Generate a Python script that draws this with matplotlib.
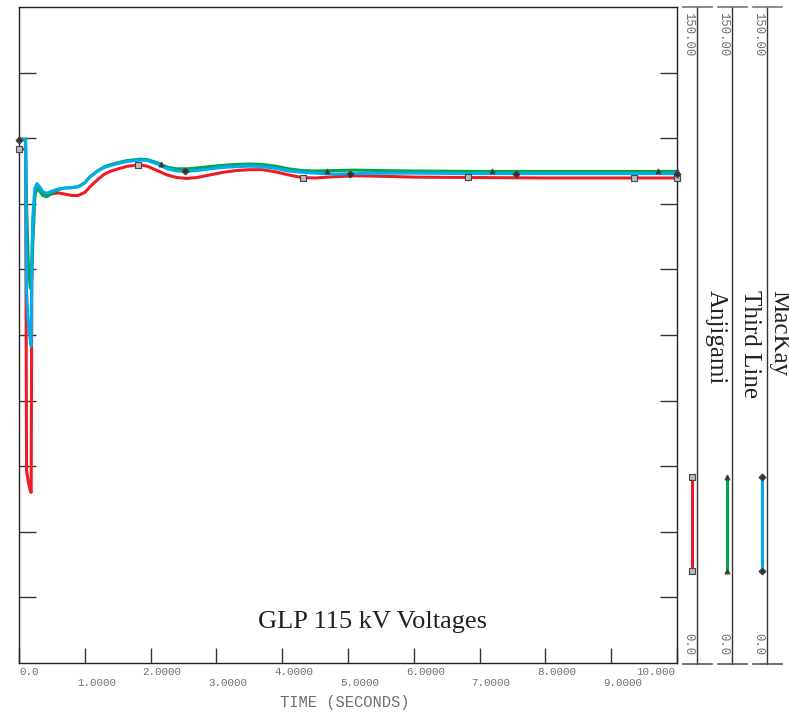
import numpy as np
import matplotlib
matplotlib.use('Agg')
import matplotlib.pyplot as plt
from matplotlib.lines import Line2D

# Datos (tiempo en s, tension en kV)
tiempo = [0.0, 0.10, 0.115, 0.14, 0.17, 0.185, 0.195, 0.21, 0.24, 0.27, 0.31, 0.36,
          0.42, 0.5, 0.6, 0.7, 0.8, 0.9, 1.0, 1.08, 1.2, 1.3, 1.4, 1.53, 1.65, 1.84,
          1.95, 2.1, 2.25, 2.4, 2.55, 2.7, 2.9, 3.1, 3.3, 3.5, 3.7, 3.9, 4.1, 4.3,
          4.5, 4.8, 5.1, 5.5, 6.0, 7.0, 8.0, 9.0, 10.0]

anjigami = [117.5, 117.5, 44.0, 41.5, 39.5, 39.0, 90.0, 100.0, 107.0, 108.5, 108.3, 107.3,
            107.0, 107.3, 107.5, 107.2, 106.9, 106.9, 107.6, 108.9, 110.6, 111.8, 112.5, 113.1, 113.6, 113.9,
            113.6, 112.6, 111.6, 111.0, 110.8, 111.0, 111.6, 112.2, 112.6, 112.8, 112.8, 112.3, 111.6, 111.0,
            110.9, 111.2, 111.4, 111.3, 111.1, 111.0, 110.9, 110.9, 110.9]

third_line = [119.8, 119.8, 105.0, 92.0, 86.0, 85.5, 89.0, 96.0, 106.5, 108.8, 108.0, 106.9,
              106.6, 107.4, 108.3, 108.6, 108.7, 108.9, 109.8, 111.2, 112.6, 113.5, 114.0, 114.5, 114.9, 115.2,
              115.1, 114.4, 113.4, 113.0, 113.0, 113.2, 113.5, 113.8, 114.0, 114.1, 114.0, 113.6, 113.0, 112.6,
              112.5, 112.6, 112.7, 112.6, 112.5, 112.4, 112.4, 112.4, 112.4]

mackay = [119.6, 119.6, 85.0, 78.0, 74.0, 72.5, 92.0, 102.0, 108.5, 109.6, 109.0, 107.8,
          107.4, 107.9, 108.4, 108.6, 108.7, 108.9, 109.8, 111.2, 112.5, 113.3, 113.8, 114.3, 114.7, 115.0,
          114.9, 114.1, 113.0, 112.5, 112.4, 112.6, 113.0, 113.3, 113.5, 113.6, 113.5, 113.1, 112.5, 112.2,
          112.0, 111.8, 111.9, 112.0, 112.0, 111.9, 111.9, 111.9, 111.9]

nombres = ['Anjigami', 'Third Line', 'MacKay']
colores = ['#ed1c24', '#00a651', '#00aeef']
marcadores = ['s', '^', 'D']
t_marcas = [[0.0, 1.81, 4.32, 6.83, 9.35, 10.0],
            [0.0, 2.16, 4.68, 7.19, 9.71, 10.0],
            [0.0, 2.52, 5.03, 7.55, 10.0]]
x_ticks = [0, 1, 2, 3, 4, 5, 6, 7, 8, 9, 10]
x_labels = ['0.0', '1.0000', '2.0000', '3.0000', '4.0000', '5.0000',
            '6.0000', '7.0000', '8.0000', '9.0000', '10.000']

W, H = 789, 713
fig = plt.figure(figsize=(W / 100, H / 100), dpi=100)


def fx(x):
    return x / W


def fy(y):
    return 1 - y / H


mono = 'Liberation Mono'
serif = 'Liberation Serif'
gris = '#707070'

ax = fig.add_axes([fx(19), fy(663), fx(677) - fx(19), fy(7) - fy(663)])
ax.set_xlim(0, 10)
ax.set_ylim(0, 150)
for s in ax.spines.values():
    s.set_color('#222222')
    s.set_linewidth(1.0)

series = [anjigami, third_line, mackay]
for datos, c, m, tm in zip(series, colores, marcadores, t_marcas):
    ax.plot(tiempo, datos, color=c, lw=2.2, solid_joinstyle='round', zorder=2)
    ym = np.interp(tm, tiempo, datos)
    ax.plot(tm, ym, ls='none', marker=m, ms=5 if m == 's' else 3.5,
            mfc='#bbbbbb' if m == 's' else '#333333', mec='#444444', mew=0.8,
            zorder=3, clip_on=False)

ax.set_yticks(np.arange(15, 150, 15))
ax.set_yticklabels([])
ax.tick_params(axis='y', direction='in', length=12, width=1, color='#333333',
               left=True, right=True)
ax.set_xticks(x_ticks)
ax.set_xticklabels([])
ax.tick_params(axis='x', direction='in', length=10.5, width=1, color='#333333')

for i, (t, lab) in enumerate(zip(x_ticks, x_labels)):
    dy = -9 if i % 2 == 0 else -20
    if i == 0:
        dx, ha = 0, 'left'
    elif i == len(x_ticks) - 1:
        dx, ha = -2, 'right'
    else:
        dx, ha = -8, 'left'
    ax.annotate(lab, xy=(t, 0), xycoords=('data', 'axes fraction'),
                xytext=(dx * 0.72, dy * 0.72), textcoords='offset points',
                ha=ha, va='center', fontsize=7.8, family=mono, color=gris)

fig.text(fx(345), fy(703), 'TIME (SECONDS)', ha='center', va='center',
         fontsize=11.2, family=mono, color=gris)
fig.text(fx(373), fy(628), 'GLP 115 kV Voltages', ha='center', va='baseline',
         fontsize=19, family=serif, color='#222222')

# Paneles de la leyenda a la derecha
x_lineas = [697, 732, 767]
x_textos = [716, 749.5, 779]
for xl, xt, nombre, c, m in zip(x_lineas, x_textos, nombres, colores, marcadores):
    fig.add_artist(Line2D([fx(xl), fx(xl)], [fy(7), fy(664)], color='#333333', lw=1.0))
    fig.add_artist(Line2D([fx(xl - 14), fx(xl + 15)], [fy(7), fy(7)], color='#777777', lw=1.2))
    fig.add_artist(Line2D([fx(xl - 14), fx(xl + 15)], [fy(664), fy(664)], color='#555555', lw=1.2))
    fig.text(fx(xl - 9), fy(12), '150.00', rotation=-90, ha='center', va='top',
             fontsize=8.8, family=mono, color=gris)
    fig.text(fx(xl - 9), fy(655), '0.0', rotation=-90, ha='center', va='bottom',
             fontsize=8.8, family=mono, color=gris)
    fig.add_artist(Line2D([fx(xl - 5), fx(xl - 5)], [fy(477), fy(571)], color=c, lw=2.2))
    fig.add_artist(Line2D([fx(xl - 5), fx(xl - 5)], [fy(477), fy(571)], ls='none',
                          marker=m, ms=5 if m == 's' else 3.5,
                          mfc='#bbbbbb' if m == 's' else '#333333', mec='#444444', mew=0.8))
    fig.text(fx(xt), fy(290), nombre, rotation=-90, ha='center', va='top',
             fontsize=18, family=serif, color='#222222')

fig.savefig('out.png', dpi=100)
